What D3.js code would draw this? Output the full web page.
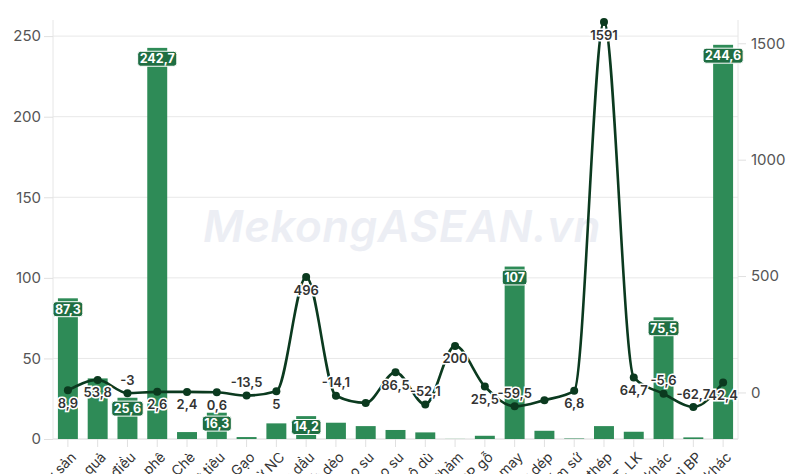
<!DOCTYPE html>
<html>
<head>
<meta charset="utf-8">
<script src="https://cdn.jsdelivr.net/npm/d3@7"></script>
<style>
  body { margin: 0; background: #fff; }
  svg { font-family: Inter, "Noto Sans", sans-serif; }
</style>
</head>
<body>
<div id="chart"></div>
<script>
// categories (export items)
const categories = [
  'Hàng thủy sản', 'Hàng rau quả', 'Hạt điều', 'Cà phê', 'Chè', 'Hạt tiêu', 'Gạo',
  'Bánh kẹo, SP từ NC', 'Xăng dầu', 'SP từ chất dẻo', 'Cao su', 'SP từ cao su',
  'Túi xách, ví, vali, mũ, ô dù', 'SP mây, tre, cói, thảm', 'Gỗ và SP gỗ', 'Hàng dệt, may',
  'Giày dép', 'SP gốm sứ', 'Sắt thép', 'Máy vi tính, SP ĐT, LK', 'MMTB, DC PT khác',
  'Dây điện, cáp điện, linh kiện, phụ tùng các loại BP', 'Hàng khác'
];
// bar series (left axis)
const barValues = [87.3, 37.6, 25.6, 242.7, 4.3, 16.3, 1.2, 9.7, 14.2, 10.1, 8, 5.6,
  4.1, 0.4, 2, 107, 5.1, 0.3, 8, 4.5, 75.5, 1, 244.6];
// line series (right axis, % change)
const lineValues = [8.9, 53.8, -3, 2.6, 2.4, 0.6, -13.5, 5, 496, -14.1, -45, 86.5,
  -52.1, 200, 25.5, -59.5, -33, 6.8, 1591, 64.7, -5.6, -62.7, 42.4];
// which data labels are drawn
const barLabelIdx = [0, 2, 3, 5, 8, 15, 20, 22];
const lineLabelHidden = [10, 16];
const leftTicks = [0, 50, 100, 150, 200, 250];
const rightTicks = [0, 500, 1000, 1500];

const width = 791, height = 474;
const pLeft = 53, pRight = 738, pTop = 20, pBottom = 439;

const vn = d3.formatLocale({ decimal: ',', thousands: '.', grouping: [3], currency: ['', ''], minus: '-' });
const fmt = (v) => vn.format('~f')(Math.round(v * 10) / 10);

const svg = d3.select('#chart').append('svg').attr('width', width).attr('height', height);

const x = d3.scaleBand().domain(categories).range([pLeft, pRight])
  .paddingInner(0.33).paddingOuter(0.165);
const yL = d3.scaleLinear().domain([0, 260]).range([pBottom, pTop]);
const yR = d3.scaleLinear().domain([-200, 1600]).range([pBottom, pTop]);
const cx = (d) => x(d) + x.bandwidth() / 2;

// watermark
svg.append('text')
  .attr('x', 402).attr('y', 242)
  .attr('text-anchor', 'middle')
  .style('font-size', '44px').style('font-weight', 600).style('font-style', 'italic')
  .style('letter-spacing', '0.5px')
  .style('fill', '#eceef4')
  .text('MekongASEAN.vn');

// gridlines
svg.append('g').selectAll('line').data(leftTicks).join('line')
  .attr('x1', pLeft).attr('x2', pRight)
  .attr('y1', (d) => yL(d)).attr('y2', (d) => yL(d))
  .attr('stroke', (d) => d === 0 ? '#d8d8d8' : '#e8e8e8');

// axes lines
svg.append('line').attr('x1', pLeft).attr('x2', pLeft).attr('y1', pTop).attr('y2', pBottom).attr('stroke', '#e6e6e6');
svg.append('line').attr('x1', pRight).attr('x2', pRight).attr('y1', pTop).attr('y2', pBottom).attr('stroke', '#e6e6e6');

//left axis
const axL = svg.append('g').attr('transform', `translate(${pLeft},0)`)
  .call(d3.axisLeft(yL).tickValues(leftTicks).tickSize(9).tickPadding(3));
//right axis
const axR = svg.append('g').attr('transform', `translate(${pRight},0)`)
  .call(d3.axisRight(yR).tickValues(rightTicks).tickFormat(d3.format('d')).tickSize(8).tickPadding(5));
//x axis
const axX = svg.append('g').attr('transform', `translate(0,${pBottom})`)
  .call(d3.axisBottom(x).tickSize(8).tickPadding(0));

[axL, axR, axX].forEach((a) => {
  a.select('.domain').remove();
  a.selectAll('.tick line').attr('stroke', '#e0e0e0');
  a.selectAll('.tick text').style('font-family', 'Inter, "Noto Sans", sans-serif');
});
[axL, axR].forEach((a) => a.selectAll('.tick text').style('font-size', '15px').attr('fill', '#555'));
axX.selectAll('.tick text')
  .style('font-size', '14px').attr('fill', '#333')
  .attr('text-anchor', 'end')
  .attr('transform', 'translate(0,10) rotate(-45)')
  .attr('dy', '0.35em');

// bars
svg.append('g').selectAll('rect').data(barValues).join('rect')
  .attr('x', (d, i) => x(categories[i]))
  .attr('width', x.bandwidth())
  .attr('y', (d) => yL(d))
  .attr('height', (d) => yL(0) - yL(d))
  .attr('fill', (d, i) => i === 13 ? '#cfe3d6' : '#2e8b57');

// line
const line = d3.line()
  .x((d, i) => cx(categories[i]))
  .y((d) => yR(d))
  .curve(d3.curveMonotoneX);

svg.append('path').datum(lineValues)
  .attr('d', line)
  .attr('fill', 'none')
  .attr('stroke', '#0b3a1f')
  .attr('stroke-width', 2.6);

svg.append('g').selectAll('circle').data(lineValues).join('circle')
  .attr('cx', (d, i) => cx(categories[i]))
  .attr('cy', (d) => yR(d))
  .attr('r', 4)
  .attr('fill', '#0b3a1f');

// line labels
svg.append('g').selectAll('text')
  .data(lineValues.map((v, i) => ({ v, i })).filter((d) => !lineLabelHidden.includes(d.i)))
  .join('text')
  .attr('x', (d) => cx(categories[d.i]))
  .attr('y', (d) => yR(d.v) + (d.v >= 0 ? 13 : -13))
  .attr('dy', '0.35em')
  .attr('text-anchor', 'middle')
  .style('font-size', '13px').style('font-weight', 600)
  .attr('fill', '#333')
  .attr('stroke', '#fff').attr('stroke-width', 3).attr('paint-order', 'stroke')
  .text((d) => fmt(d.v));

// bar labels
const bl = svg.append('g').selectAll('g').data(barLabelIdx).join('g')
  .attr('transform', (i) => `translate(${cx(categories[i])},${yL(barValues[i]) + 11})`);

bl.append('text')
  .attr('text-anchor', 'middle').attr('dy', '0.35em')
  .style('font-size', '12.5px').style('font-weight', 700)
  .attr('fill', '#fff')
  .text((i) => fmt(barValues[i]))
  .each(function () {
    const b = this.getBBox();
    d3.select(this.parentNode).insert('rect', 'text')
      .attr('x', b.x - 2).attr('y', b.y)
      .attr('width', b.width + 4).attr('height', b.height)
      .attr('rx', 3)
      .attr('fill', '#1f6e42')
      .attr('stroke', '#fff').attr('stroke-width', 1);
  });
</script>
</body>
</html>
